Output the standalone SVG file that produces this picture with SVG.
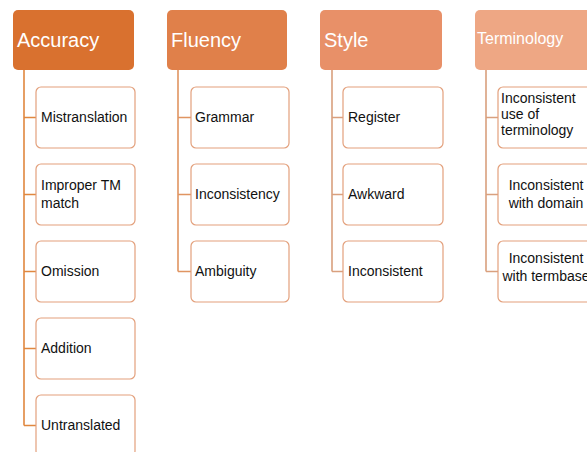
<svg xmlns="http://www.w3.org/2000/svg" width="587" height="452" viewBox="0 0 587 452">
<style>
.hd{stroke:none}
.ht{font-family:"Liberation Sans",Arial,sans-serif;fill:#ffffff;font-size:20px}
.ch{fill:#ffffff;stroke:#e3a07c;stroke-width:1.2}
.ct{font-family:"Liberation Sans",Arial,sans-serif;fill:#111111;font-size:14px}
.ctm{text-anchor:middle}
.ln{fill:none;stroke-width:1.6}
</style>
<rect width="587" height="452" fill="#ffffff"/>
<g id="connectors">
<path class="ln" stroke="#e0873f" d="M24 70V425.5M24 117.5H36M24 194.5H36M24 271.5H36M24 348.5H36M24 425.5H36"/>
<path class="ln" stroke="#e09562" d="M178 70V271.5M178 117.5H191M178 194.5H191M178 271.5H191"/>
<path class="ln" stroke="#d9a07e" d="M332 70V271.5M332 117.5H343M332 194.5H343M332 271.5H343"/>
<path class="ln" stroke="#d9a07e" d="M486 70V271.5M486 117.5H498M486 194.5H498M486 271.5H498"/>
</g>
<g id="accuracy"><rect class="hd" x="13" y="10" width="121" height="60" rx="5" fill="#d9712f"/><text class="ht" x="17" y="47">Accuracy</text></g>
<g id="fluency"><rect class="hd" x="167" y="10" width="120" height="60" rx="5" fill="#e0804a"/><text class="ht" x="171" y="47">Fluency</text></g>
<g id="style"><rect class="hd" x="320" y="10" width="122" height="60" rx="5" fill="#e89068"/><text class="ht" x="324" y="47">Style</text></g>
<g id="terminology"><rect class="hd" x="475" y="10" width="130" height="60" rx="5" fill="#eea784"/><text class="ht" x="477" y="44" style="font-size:16px">Terminology</text></g>

<g id="mistranslation"><rect class="ch" x="36" y="87" width="99" height="61" rx="5"/><text class="ct" x="41" y="122">Mistranslation</text></g>
<g id="improper"><rect class="ch" x="36" y="164" width="99" height="61" rx="5"/><text class="ct" x="41" y="190">Improper TM</text><text class="ct" x="41" y="208">match</text></g>
<g id="omission"><rect class="ch" x="36" y="241" width="99" height="61" rx="5"/><text class="ct" x="41" y="276">Omission</text></g>
<g id="addition"><rect class="ch" x="36" y="318" width="99" height="61" rx="5"/><text class="ct" x="41" y="353">Addition</text></g>
<g id="untranslated"><rect class="ch" x="36" y="395" width="99" height="61" rx="5"/><text class="ct" x="41" y="430">Untranslated</text></g>

<g id="grammar"><rect class="ch" x="191" y="87" width="98" height="61" rx="5"/><text class="ct" x="195" y="122">Grammar</text></g>
<g id="inconsistency"><rect class="ch" x="191" y="164" width="98" height="61" rx="5"/><text class="ct" x="195" y="199">Inconsistency</text></g>
<g id="ambiguity"><rect class="ch" x="191" y="241" width="98" height="61" rx="5"/><text class="ct" x="195" y="276">Ambiguity</text></g>

<g id="register"><rect class="ch" x="343" y="87" width="100" height="61" rx="5"/><text class="ct" x="348" y="122">Register</text></g>
<g id="awkward"><rect class="ch" x="343" y="164" width="100" height="61" rx="5"/><text class="ct" x="348" y="199">Awkward</text></g>
<g id="inconsistent"><rect class="ch" x="343" y="241" width="100" height="61" rx="5"/><text class="ct" x="348" y="276">Inconsistent</text></g>

<g id="term-use"><rect class="ch" x="498" y="87" width="100" height="61" rx="5"/><text class="ct" x="501" y="103">Inconsistent</text><text class="ct" x="501" y="119">use of</text><text class="ct" x="501" y="135">terminology</text></g>
<g id="term-domain"><rect class="ch" x="498" y="164" width="100" height="61" rx="5"/><text class="ct ctm" x="546" y="190">Inconsistent</text><text class="ct ctm" x="546" y="208">with domain</text></g>
<g id="term-termbase"><rect class="ch" x="498" y="241" width="100" height="61" rx="5"/><text class="ct ctm" x="546" y="263">Inconsistent</text><text class="ct ctm" x="546" y="281">with termbase</text></g>
</svg>
